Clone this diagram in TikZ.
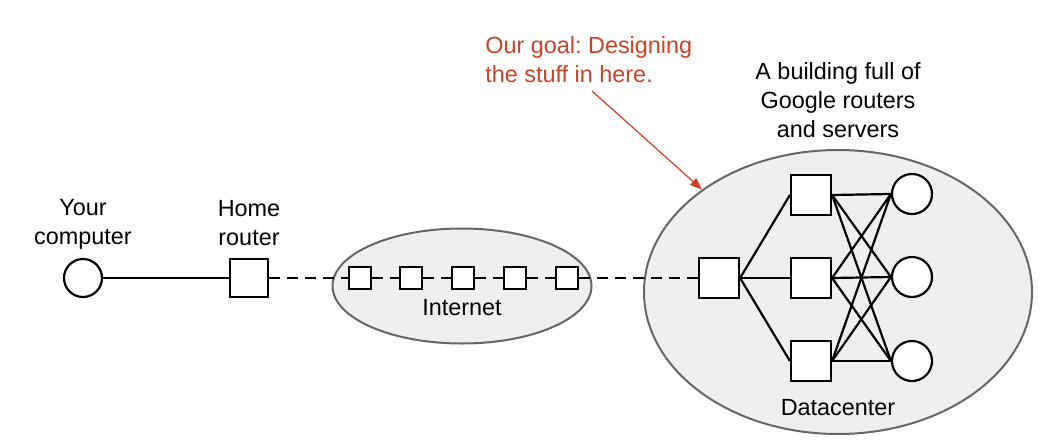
\documentclass[tikz,border=0pt]{standalone}
\usepackage{fontspec}
\setmainfont{Liberation Sans}
\usetikzlibrary{arrows.meta,positioning,shapes.geometric}
\definecolor{goalred}{HTML}{CC4125}
\definecolor{cloudline}{HTML}{666666}
\definecolor{cloudfill}{HTML}{EFEFEF}
\tikzset{router/.style={shape=rectangle,draw=black,fill=white,line width=1.1pt,minimum size=19pt,inner sep=0pt},
  hop/.style={router,minimum size=11pt},
  host/.style={shape=circle,draw=black,fill=white,line width=1.1pt,minimum size=19pt,inner sep=0pt},
  cloud/.style={shape=ellipse,draw=cloudline,fill=cloudfill,line width=1pt,inner sep=0pt},
  txt/.style={align=center,inner sep=0pt,font=\fontsize{11.7}{14.5}\selectfont},
  link/.style={draw=black,line width=1.1pt},
  wan/.style={link,dash pattern=on 5.5pt off 3.5pt}}
\frenchspacing

\begin{document}
\begin{tikzpicture}[x=0.5pt, y=-0.5pt, -, >=stealth]
    \useasboundingbox (0,0) rectangle (1046,445);

    \node[cloud,minimum width=129.5pt,minimum height=57.5pt] (net) at (462,286) {};
    \node[cloud,minimum width=194pt,minimum height=142pt] (dc) at (838,292) {};

    \node[txt] at (83,224) {Your\\computer};
    \node[txt] at (249,223) {Home\\router};
    \node[txt] at (462,308) {Internet};
    \node[txt] at (838,408) {Datacenter};
    \node[txt] at (838,100) {A building full of\\Google routers\\and servers};
    \node[txt,align=left,anchor=west,text=goalred] (goal) at (485,60) {Our goal: Designing\\the stuff in here.};
    \coordinate (goaltail) at (592,91);

    \node[host] (pc) at (83,278) {};
    \node[router] (home) at (249,278) {};

    \node[hop] (1) at (360,278) {};
    \node[hop] (2) at (411,278) {};
    \node[hop] (3) at (463,278) {};
    \node[hop] (4) at (515,278) {};
    \node[hop] (5) at (567,278) {};

    \node[router,minimum size=20pt] (gw) at (719,278) {};
    \node[router,minimum size=20pt] (a) at (811,195) {};
    \node[router,minimum size=20pt] (b) at (811,278) {};
    \node[router,minimum size=20pt] (c) at (811,361) {};
    \node[host,minimum size=20pt] (x) at (912,194) {};
    \node[host,minimum size=20pt] (y) at (912,277) {};
    \node[host,minimum size=20pt] (z) at (912,361) {};

    \path (pc) edge[link] (home);
    \path (home) edge[wan] (1);
    \path (1) edge[wan] (2);
    \path (2) edge[wan] (3);
    \path (3) edge[wan] (4);
    \path (4) edge[wan] (5);
    \path (5) edge[wan] (gw);

    \path (gw.east) edge[link] (a.west);
    \path (gw.east) edge[link] (b.west);
    \path (gw.east) edge[link] (c.west);

    \path (a.east) edge[link] (x.west);
    \path (a.east) edge[link] (y.west);
    \path (a.east) edge[link] (z.west);
    \path (b.east) edge[link] (x.west);
    \path (b.east) edge[link] (y.west);
    \path (b.east) edge[link] (z.west);
    \path (c.east) edge[link] (x.west);
    \path (c.east) edge[link] (y.west);
    \path (c.east) edge[link] (z.west);

    \path (goaltail) edge[draw=goalred,line width=0.6pt,-{Triangle[length=6pt,width=4.5pt]}] (dc.143);
\end{tikzpicture}
\end{document}
